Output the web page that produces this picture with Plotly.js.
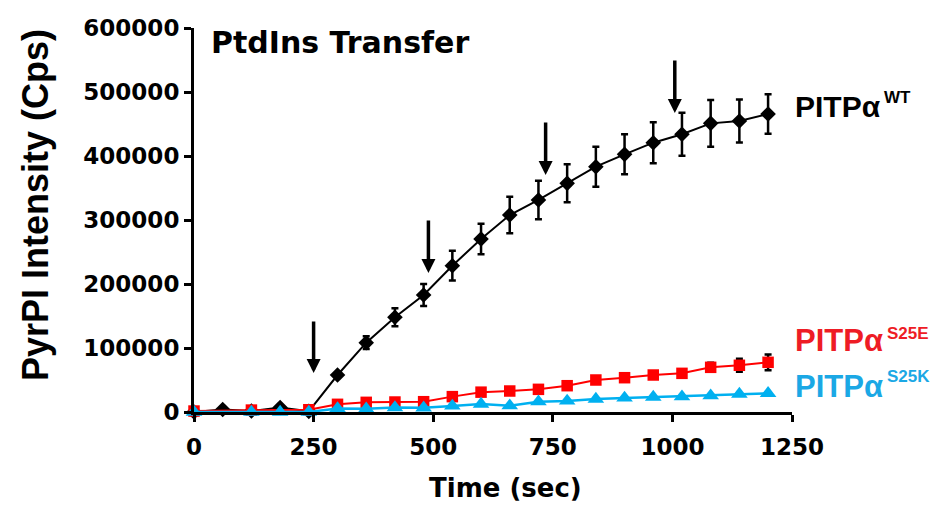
<!DOCTYPE html>
<html>
<head>
<meta charset="utf-8">
<script src="https://cdn.plot.ly/plotly-3.0.1.min.js"></script>
<style>html,body{margin:0;padding:0;background:#fff;}</style>
</head>
<body>
<div id="chart" style="width:935px;height:512px;"></div>
<script>
// ---- data ----
const timeWT = [0,60,120,180,240,300,360,420,480,540,600,660,720,780,840,900,960,1020,1080,1140,1200];
const valWT  = [0,4000,1500,7000,1000,57800,108300,148000,182800,228600,270300,307800,331300,357300,383300,402600,420800,433900,451000,454700,465600];
const errWT  = [0,0,0,0,0,3500,9900,14000,17200,23200,24000,28600,30200,29700,31300,31300,32000,33600,36500,33600,31000];

const timeS25E = [0,120,240,300,360,420,480,540,600,660,720,780,840,900,960,1020,1080,1140,1200];
const valS25E  = [1500,3000,3500,12000,15100,15600,16100,24000,31000,32800,35400,41100,50000,53600,57800,60400,69800,73000,77600];
const errS25E  = [0,0,0,1000,1500,1500,1500,2000,3000,3000,3000,3500,4000,4000,4500,5000,7000,10200,12200];

const timeS25K = [0,120,180,240,300,360,420,480,540,600,660,720,780,840,900,960,1020,1080,1140,1200];
const valS25K  = [0,0,0,0,5500,5000,7000,6500,9500,12500,9900,16100,17200,20300,21900,23400,24000,25500,28100,29200];

const arrowTime = [250,490,735,1005];
const arrowTail = [143750,301600,454700,551600];
const arrowTip  = [60900,217200,370300,467200];

const yTicks = [0,100000,200000,300000,400000,500000,600000];
const xTicks = [0,250,500,750,1000,1250];

const titleText = 'PtdIns Transfer';
const xTitle = 'Time (sec)';
const yTitle = 'PyrPI Intensity (Cps)';

// ---- layout helpers ----
const L = 194, R = 143, T = 28, B = 100, W = 935, H = 512;
const pw = W - L - R, ph = H - T - B;
const px = v => (v - L) / pw;
const py = v => (H - B - v) / ph;

const traces = [
  {x: timeWT, y: valWT, type: 'scatter', mode: 'lines+markers', cliponaxis: false,
   line: {color: '#000000', width: 2},
   marker: {symbol: 'diamond', size: 12, color: '#000000'},
   error_y: {type: 'data', array: errWT, visible: true, color: '#000000', thickness: 2.5, width: 3.5}},
  {x: timeS25E, y: valS25E, type: 'scatter', mode: 'lines+markers', cliponaxis: false,
   line: {color: '#FF0000', width: 2},
   marker: {symbol: 'square', size: 11.5, color: '#FF0000'},
   error_y: {type: 'data', array: errS25E, visible: true, color: '#000000', thickness: 2.5, width: 3.5}},
  {x: timeS25K, y: valS25K, type: 'scatter', mode: 'lines+markers', cliponaxis: false,
   line: {color: '#00B0F0', width: 2.5},
   marker: {symbol: 'triangle-up', size: 14.5, color: '#00B0F0'}}
];

const annotations = [];
arrowTime.forEach((t, i) => {
  annotations.push({x: t, y: arrowTip[i], xref: 'x', yref: 'y', ax: t, ay: arrowTail[i],
    axref: 'x', ayref: 'y', text: '', showarrow: true, arrowhead: 2, arrowsize: 0.8,
    arrowwidth: 3.5, arrowcolor: '#000000'});
});

const labelFont = 'Liberation Sans, Arial, sans-serif';
function label(main, sup, color, size, xMain, yMain, xSup, ySup) {
  annotations.push({xref: 'paper', yref: 'paper', x: px(xMain), y: py(yMain), xanchor: 'left', yanchor: 'middle',
    text: '<b>' + main + '</b>', showarrow: false, font: {family: labelFont, size: size, color: color}});
  annotations.push({xref: 'paper', yref: 'paper', x: px(xSup), y: py(ySup), xanchor: 'left', yanchor: 'middle',
    text: '<b>' + sup + '</b>', showarrow: false, font: {family: labelFont, size: 17, color: color}});
}
label('PITPα', 'WT', '#000000', 30, 793, 107, 882, 98);
label('PITPα', 'S25E', '#EE1C25', 31, 793, 340, 885, 333);
label('PITPα', 'S25K', '#1BA8E5', 31, 793, 386, 885, 376);

// axis titles
annotations.push({xref: 'paper', yref: 'paper', x: px(505), y: py(488), xanchor: 'center', yanchor: 'middle',
  text: '<b>' + xTitle + '</b>', showarrow: false, font: {family: 'DejaVu Sans, sans-serif', size: 26, color: '#000'}});
annotations.push({xref: 'paper', yref: 'paper', x: px(35), y: py(205), xanchor: 'center', yanchor: 'middle',
  text: '<b>' + yTitle + '</b>', textangle: -90, showarrow: false, font: {family: labelFont, size: 36, color: '#000'}});

const tickFont = {family: 'DejaVu Sans, sans-serif', size: 23, color: '#000', weight: 'bold'};

const layout = {
  width: W, height: H,
  margin: {l: L, r: R, t: T, b: B},
  paper_bgcolor: '#ffffff', plot_bgcolor: '#ffffff',
  showlegend: false,
  title: {text: '<b>' + titleText + '</b>', x: 211 / W, xref: 'container', xanchor: 'left',
          y: 1 - 42 / H, yref: 'container', yanchor: 'middle',
          font: {family: 'DejaVu Sans, sans-serif', size: 30, color: '#000'}},
  xaxis: {range: [0, 1250], tickvals: xTicks, ticktext: xTicks.map(String), showgrid: false, zeroline: false,
          showline: true, linecolor: '#000', linewidth: 3, ticks: 'outside', ticklen: 7, tickwidth: 3,
          tickcolor: '#000', tickfont: tickFont, ticklabelstandoff: 5, fixedrange: true},
  yaxis: {range: [0, 600000], tickvals: yTicks, ticktext: yTicks.map(String), showgrid: false, zeroline: false,
          showline: true, linecolor: '#000', linewidth: 3, ticks: 'outside', ticklen: 7, tickwidth: 3,
          tickcolor: '#000', tickfont: tickFont, fixedrange: true},
  annotations: annotations
};

Plotly.newPlot('chart', traces, layout, {displayModeBar: false, staticPlot: true});
</script>
</body>
</html>
